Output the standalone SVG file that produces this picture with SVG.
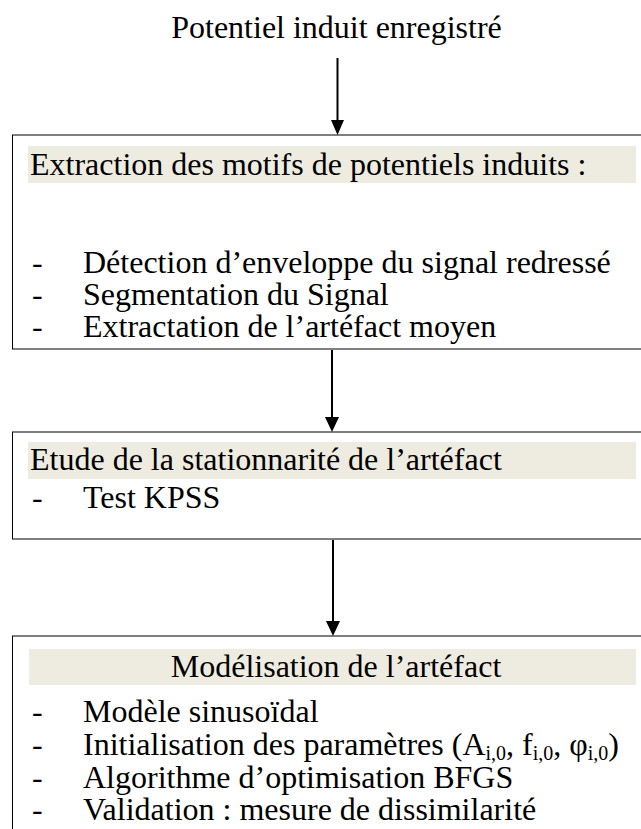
<svg xmlns="http://www.w3.org/2000/svg" width="641" height="829" viewBox="0 0 641 829">
<style>
text{font-family:"Liberation Serif","Times New Roman",serif;font-size:32px;fill:#000}
.box{fill:#fff;stroke:#000;stroke-width:1}
.hl{fill:#EEECE1}
.sub{font-size:20px}
.conn{stroke:#000;stroke-width:2;fill:none}
.head{fill:#000}
</style>
<text id="title" x="336.5" y="38" text-anchor="middle">Potentiel induit enregistré</text>
<g id="node1">
<rect class="box" x="12.5" y="135" width="640" height="214"/>
<rect class="hl" x="28" y="146" width="608" height="37"/>
<text x="30" y="175">Extraction des motifs de potentiels induits :</text>
<text x="32" y="273">-</text><text x="83" y="273">Détection d’enveloppe du signal redressé</text>
<text x="32" y="305">-</text><text x="83" y="305">Segmentation du Signal</text>
<text x="32" y="337">-</text><text x="83" y="337">Extractation de l’artéfact moyen</text>
</g>
<g id="node2">
<rect class="box" x="12.5" y="432" width="640" height="107"/>
<rect class="hl" x="28" y="442" width="608" height="37"/>
<text x="30" y="470">Etude de la stationnarité de l’artéfact</text>
<text x="32" y="508">-</text><text x="83" y="508">Test KPSS</text>
</g>
<g id="node3">
<rect class="box" x="12.5" y="636" width="640" height="220"/>
<rect class="hl" x="29" y="649" width="607" height="36"/>
<text x="336" y="677" text-anchor="middle">Modélisation de l’artéfact</text>
<text x="32" y="722">-</text><text x="83" y="722">Modèle sinusoïdal</text>
<text x="32" y="755">-</text><text x="83" y="755">Initialisation des paramètres (A<tspan class="sub" dy="5">i,0</tspan><tspan dy="-5">, f</tspan><tspan class="sub" dy="5">i,0</tspan><tspan dy="-5">, φ</tspan><tspan class="sub" dy="5">i,0</tspan><tspan dy="-5">)</tspan></text>
<text x="32" y="788">-</text><text x="83" y="788">Algorithme d’optimisation BFGS</text>
<text x="32" y="820">-</text><text x="83" y="820">Validation : mesure de dissimilarité</text>
</g>
<g id="connectors">
<line class="conn" x1="337.5" y1="58" x2="337.5" y2="122"/>
<polygon class="head" points="331,120 344,120 337.5,135"/>
<line class="conn" x1="332" y1="350" x2="332" y2="419"/>
<polygon class="head" points="325,417 339,417 332,432"/>
<line class="conn" x1="333" y1="540" x2="333" y2="623"/>
<polygon class="head" points="326,621 340,621 333,636"/>
</g>
</svg>
